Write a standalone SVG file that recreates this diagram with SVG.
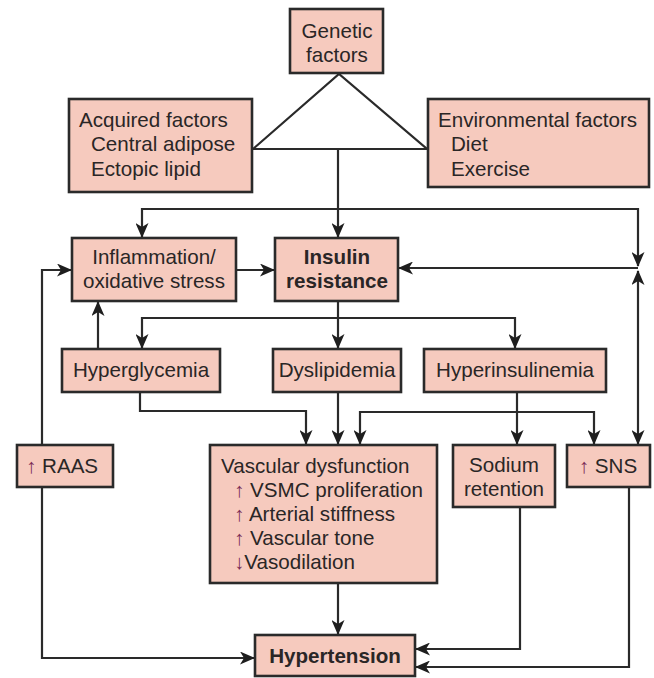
<svg xmlns="http://www.w3.org/2000/svg" width="654" height="678" viewBox="0 0 654 678">
<defs>
<style>
.box{fill:#f6cabe;stroke:#2a2a2a;stroke-width:2.6}
.t{font-family:"Liberation Sans",Arial,sans-serif;font-size:20.6px;fill:#2a2626}
.c{text-anchor:middle}
.b{font-weight:bold}
.ln{fill:none;stroke:#2a2a2a;stroke-width:2.2}
.ar{fill:#7a2a55}
</style>
<marker id="ah" viewBox="0 0 15 13" refX="14" refY="6.5" markerWidth="15" markerHeight="13" markerUnits="userSpaceOnUse" orient="auto-start-reverse">
<path d="M0,0 L15,6.5 L0,13 L4,6.5 z" fill="#1e1e1e"/>
</marker>
</defs>
<rect width="654" height="678" fill="#ffffff"/>

<g id="connectors">
<polyline class="ln" points="253,149 339,74 427,149 253,149"/>
<line class="ln" x1="338" y1="149" x2="338" y2="237" marker-end="url(#ah)"/>
<polyline class="ln" points="142,237 142,209 638,209 638,266" marker-start="url(#ah)" marker-end="url(#ah)"/>
<line class="ln" x1="638" y1="268" x2="399" y2="268" marker-end="url(#ah)"/>
<line class="ln" x1="638" y1="444" x2="638" y2="271" marker-start="url(#ah)" marker-end="url(#ah)"/>
<line class="ln" x1="236" y1="270" x2="274" y2="270" marker-end="url(#ah)"/>
<polyline class="ln" points="42,445 42,270 71,270" marker-end="url(#ah)"/>
<line class="ln" x1="98" y1="349" x2="98" y2="302" marker-end="url(#ah)"/>
<line class="ln" x1="338" y1="301" x2="338" y2="348" marker-end="url(#ah)"/>
<polyline class="ln" points="142,348 142,318 515,318 515,348" marker-start="url(#ah)" marker-end="url(#ah)"/>
<polyline class="ln" points="140,392 140,411 306,411 306,444" marker-end="url(#ah)"/>
<line class="ln" x1="338" y1="392" x2="338" y2="444" marker-end="url(#ah)"/>
<line class="ln" x1="517" y1="392" x2="517" y2="444" marker-end="url(#ah)"/>
<polyline class="ln" points="360,444 360,412 594,412 594,444" marker-start="url(#ah)" marker-end="url(#ah)"/>
<line class="ln" x1="338" y1="583" x2="338" y2="634" marker-end="url(#ah)"/>
<polyline class="ln" points="42,487 42,658 254,658" marker-end="url(#ah)"/>
<polyline class="ln" points="520,507 520,649 416,649" marker-end="url(#ah)"/>
<polyline class="ln" points="629,487 629,667 416,667" marker-end="url(#ah)"/>
</g>

<g id="genetic">
<rect class="box" x="290" y="9" width="93" height="64"/>
<text class="t c" x="337" y="38">Genetic</text>
<text class="t c" x="337" y="62">factors</text>
</g>
<g id="acquired">
<rect class="box" x="69" y="99" width="183" height="93"/>
<text class="t" x="79" y="127">Acquired factors</text>
<text class="t" x="91" y="151">Central adipose</text>
<text class="t" x="91" y="176">Ectopic lipid</text>
</g>
<g id="environmental">
<rect class="box" x="428" y="99" width="221" height="88"/>
<text class="t" x="438" y="127">Environmental factors</text>
<text class="t" x="451" y="151">Diet</text>
<text class="t" x="451" y="176">Exercise</text>
</g>
<g id="inflammation">
<rect class="box" x="72" y="238" width="164" height="63"/>
<text class="t c" x="154" y="264">Inflammation/</text>
<text class="t c" x="154" y="288">oxidative stress</text>
</g>
<g id="insulin">
<rect class="box" x="275" y="238" width="123" height="63"/>
<text class="t c b" x="337" y="264">Insulin</text>
<text class="t c b" x="337" y="288">resistance</text>
</g>
<g id="hyperglycemia">
<rect class="box" x="62" y="349" width="158" height="43"/>
<text class="t c" x="141" y="377">Hyperglycemia</text>
</g>
<g id="dyslipidemia">
<rect class="box" x="273" y="349" width="128" height="43"/>
<text class="t c" x="337" y="377">Dyslipidemia</text>
</g>
<g id="hyperinsulinemia">
<rect class="box" x="424" y="349" width="182" height="43"/>
<text class="t c" x="515" y="377">Hyperinsulinemia</text>
</g>
<g id="raas">
<rect class="box" x="17" y="445" width="96" height="42"/>
<text class="t" x="26" y="473"><tspan class="ar">↑</tspan> RAAS</text>
</g>
<g id="vascular">
<rect class="box" x="210" y="445" width="227" height="138"/>
<text class="t" x="221" y="473">Vascular dysfunction</text>
<text class="t" x="234" y="497"><tspan class="ar">↑</tspan> VSMC proliferation</text>
<text class="t" x="234" y="521"><tspan class="ar">↑</tspan> Arterial stiffness</text>
<text class="t" x="234" y="545"><tspan class="ar">↑</tspan> Vascular tone</text>
<text class="t" x="234" y="569"><tspan class="ar">↓</tspan>Vasodilation</text>
</g>
<g id="sodium">
<rect class="box" x="453" y="445" width="102" height="62"/>
<text class="t c" x="504" y="472">Sodium</text>
<text class="t c" x="504" y="496">retention</text>
</g>
<g id="sns">
<rect class="box" x="567" y="445" width="83" height="42"/>
<text class="t c" x="608" y="473"><tspan class="ar">↑</tspan> SNS</text>
</g>
<g id="hypertension">
<rect class="box" x="255" y="635" width="160" height="41"/>
<text class="t c b" x="335" y="663">Hypertension</text>
</g>
</svg>
